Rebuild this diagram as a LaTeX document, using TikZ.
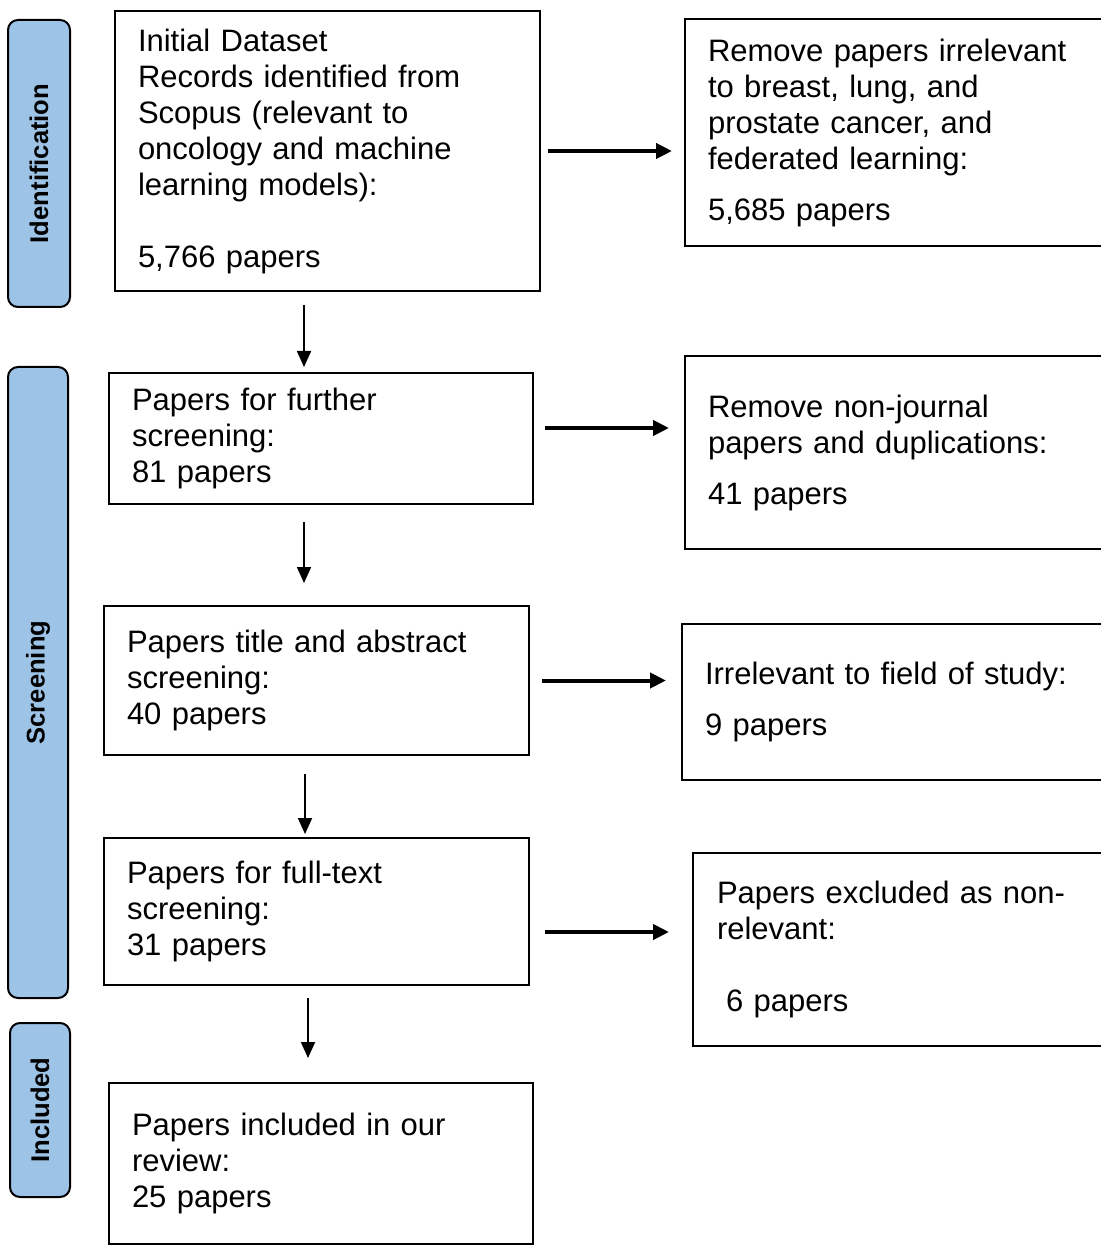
\documentclass[tikz,border=0pt]{standalone}
\usepackage{fontspec}
\setmainfont{Liberation Sans}
\usepackage{tikz}
\usetikzlibrary{calc,arrows.meta}
\definecolor{prisma-stage}{HTML}{9DC3E6}

\begin{document}
\begin{tikzpicture}[x=0.5pt, y=-0.5pt,
    box/.style={draw, line width=1pt, anchor=north west, align=left, inner xsep=11.5pt, inner ysep=0pt, font=\fontsize{15.5}{18}\selectfont},
    stage/.style={draw, line width=1pt, fill=prisma-stage, rounded corners=5pt, rotate=90, inner sep=0pt, font=\bfseries\fontsize{12.8}{15}\selectfont},
    sidearr/.style={line width=2pt, -{Triangle[length=8pt,width=7.5pt]}},
    downarr/.style={line width=0.9pt, -{Triangle[length=8pt,width=7pt]}}]
    \useasboundingbox (0,0) rectangle (1100,1245);
    % stages
    \node[stage, minimum width=143.5pt, minimum height=31pt] (ident) at (39,163.5) {Identification};
    \node[stage, minimum width=315.5pt, minimum height=30pt] (screen) at (38,682.5) {Screening};
    \node[stage, minimum width=87pt, minimum height=30pt] (incl) at (40,1110) {Included};
    % main column
    \node[box, minimum width=212.5pt, minimum height=140pt, text width=189.5pt] (init) at (114,10) {Initial Dataset\\ Records identified from\\ Scopus (relevant to\\ oncology and machine\\ learning models):\\[18pt] 5,766 papers};
    \node[box, minimum width=212pt, minimum height=65.5pt, text width=189pt] (further) at (108,372) {Papers for further\\ screening:\\ 81 papers};
    \node[box, minimum width=212.5pt, minimum height=74.5pt, text width=189.5pt] (title) at (103,605) {Papers title and abstract\\ screening:\\ 40 papers};
    \node[box, minimum width=212.5pt, minimum height=73.5pt, text width=189.5pt] (fulltext) at (103,837) {Papers for full-text\\ screening:\\ 31 papers};
    \node[box, minimum width=212pt, minimum height=80.5pt, text width=189pt] (included) at (108,1082) {Papers included in our\\ review:\\ 25 papers};
    % removed records
    \node[box, minimum width=215.5pt, minimum height=113.5pt, text width=192.5pt] (rm1) at (684,18) {Remove papers irrelevant\\ to breast, lung, and\\ prostate cancer, and\\ federated learning:\\[7.5pt] 5,685 papers};
    \node[box, minimum width=215.5pt, minimum height=96.5pt, text width=192.5pt] (rm2) at (684,355) {Remove non-journal\\ papers and duplications:\\[7.5pt] 41 papers};
    \node[box, minimum width=217pt, minimum height=78pt, text width=194pt] (rm3) at (681,623) {Irrelevant to field of study:\\[7.5pt] 9 papers};
    \node[box, minimum width=211.5pt, minimum height=96.5pt, text width=188.5pt, inner xsep=12pt] (rm4) at (692,852) {Papers excluded as non-\\ relevant:\\[18pt] \hspace*{4.5pt}6 papers};
    % arrows
    \draw[sidearr, shorten <=3.5pt, shorten >=6pt] (init.east) -- (init.east -| rm1.west);
    \draw[sidearr, shorten <=5.5pt, shorten >=7.5pt] ([yshift=5.25pt]further.east) -- ([yshift=5.25pt]further.east -| rm2.west);
    \draw[sidearr, shorten <=6pt, shorten >=7.5pt] (title.east) -- (title.east -| rm3.west);
    \draw[sidearr, shorten <=7.5pt, shorten >=11.5pt] ([yshift=-10.25pt]fulltext.east) -- ([yshift=-10.25pt]fulltext.east -| rm4.west);
    \draw[downarr, shorten <=6.5pt, shorten >=2.5pt] ([xshift=-11.75pt]init.south) -- ([xshift=-11.75pt]init.south |- further.north);
    \draw[downarr, shorten <=8.5pt, shorten >=11pt] ([xshift=-8.5pt]further.south) -- ([xshift=-8.5pt]further.south |- title.north);
    \draw[downarr, shorten <=9pt, shorten >=1.5pt] ([xshift=-5.75pt]title.south) -- ([xshift=-5.75pt]title.south |- fulltext.north);
    \draw[downarr, shorten <=6pt, shorten >=12pt] ([xshift=-4.25pt]fulltext.south) -- ([xshift=-4.25pt]fulltext.south |- included.north);
\end{tikzpicture}
\end{document}
